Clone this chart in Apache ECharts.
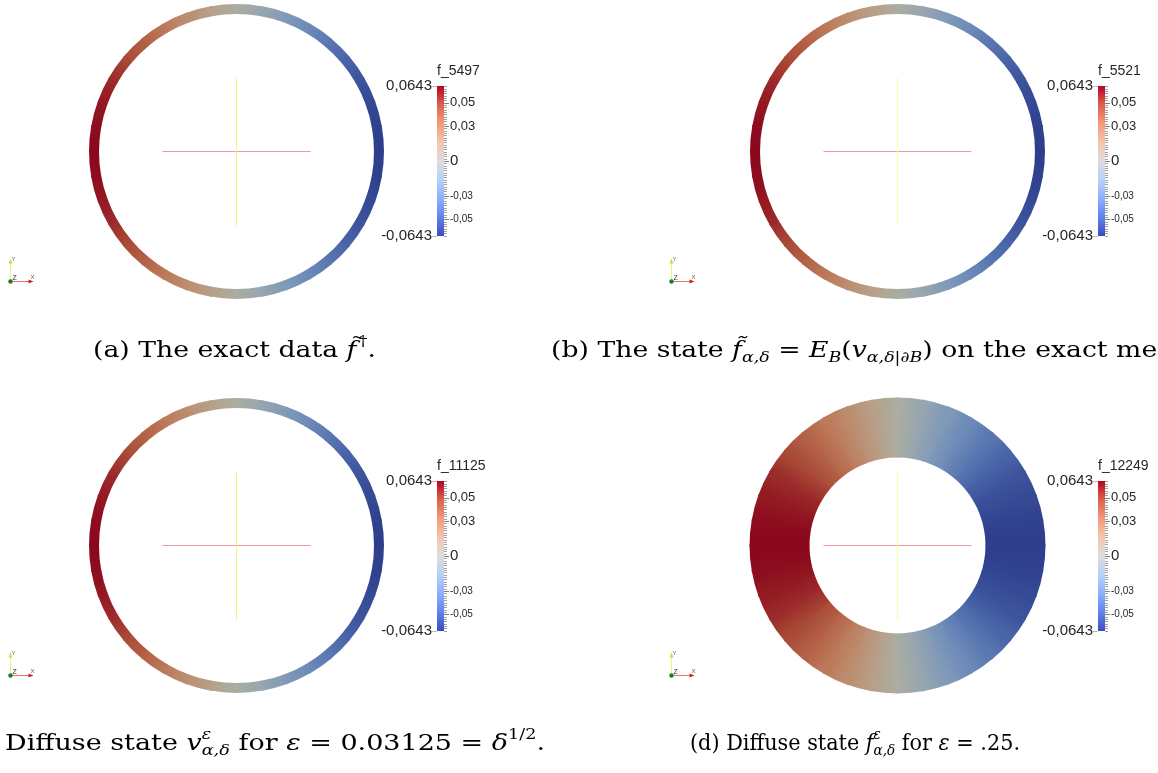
<!DOCTYPE html>
<html><head><meta charset="utf-8">
<script src="https://cdn.jsdelivr.net/npm/echarts@6/dist/echarts.min.js"></script>
<style>html,body{margin:0;padding:0;background:#fff;overflow:hidden}#c{width:1158px;height:773px}</style>
</head><body><div id="c"></div>
<script>
// ---------------- DATA ----------------
const ringAngles = [0,10,20,30,40,50,60,70,80,90,100,110,120,130,140,150,160,170,
                    180,190,200,210,220,230,240,250,260,270,280,290,300,310,320,330,340,350];
// (a) exact data f~dagger
const ringValuesA = [-0.064,-0.063,-0.060,-0.056,-0.049,-0.041,-0.032,-0.022,-0.011,0.000,0.011,0.022,0.032,0.041,0.049,0.056,0.060,0.063,
                      0.064,0.063,0.060,0.056,0.049,0.041,0.032,0.022,0.011,0.000,-0.011,-0.022,-0.032,-0.041,-0.049,-0.056,-0.060,-0.063];
// (b) state f~_{alpha,delta}
const ringValuesB = [-0.064,-0.063,-0.060,-0.056,-0.049,-0.041,-0.032,-0.022,-0.011,0.000,0.011,0.022,0.032,0.041,0.049,0.056,0.060,0.063,
                      0.064,0.063,0.060,0.056,0.049,0.041,0.032,0.022,0.011,0.000,-0.011,-0.022,-0.032,-0.041,-0.049,-0.056,-0.060,-0.063];
// (c) diffuse state v^eps
const ringValuesC = [-0.064,-0.063,-0.060,-0.056,-0.049,-0.041,-0.032,-0.022,-0.011,0.000,0.011,0.022,0.032,0.041,0.049,0.056,0.060,0.063,
                      0.064,0.063,0.060,0.056,0.049,0.041,0.032,0.022,0.011,0.000,-0.011,-0.022,-0.032,-0.041,-0.049,-0.056,-0.060,-0.063];
// (d) diffuse state f^eps
const ringValuesD = [-0.064,-0.063,-0.060,-0.056,-0.049,-0.041,-0.032,-0.022,-0.011,0.000,0.011,0.022,0.032,0.041,0.049,0.056,0.060,0.063,
                      0.064,0.063,0.060,0.056,0.049,0.041,0.032,0.022,0.011,0.000,-0.011,-0.022,-0.032,-0.041,-0.049,-0.056,-0.060,-0.063];
const colorbarTitles = ['f_5497','f_5521','f_11125','f_12249'];
const colorbarRange = [-0.0643, 0.0643];
const colorbarEndLabels = ['-0,0643','0,0643'];
const tickValues = [0.05, 0.03, 0, -0.03, -0.05];
const tickLabels = ['0,05','0,03','0','-0,03','-0,05'];
const minorTickStep = 0.002;

// ---------------- STYLE / LAYOUT ----------------
const panels = [
  {cx:236.5, cy:151.5, r0:137.5, r1:147.5, bx:437,  by:86,  dx:0,   dy:0,   values:ringValuesA, faint:false},
  {cx:897.5, cy:151.5, r0:137.5, r1:147.5, bx:1098, by:86,  dx:661, dy:0,   values:ringValuesB, faint:true},
  {cx:236.5, cy:545.5, r0:137.5, r1:147.5, bx:437,  by:481, dx:0,   dy:394, values:ringValuesC, faint:false},
  {cx:897.5, cy:545.5, r0:88,    r1:148,   bx:1098, by:481, dx:661, dy:394, values:ringValuesD, faint:true}
];
const BAR_W = 7, BAR_H = 150;
const cwStops = [
  [0.000,[59,76,192]],[0.125,[97,130,234]],[0.250,[141,176,254]],[0.375,[184,208,249]],
  [0.500,[221,221,221]],[0.625,[245,196,173]],[0.750,[244,154,123]],[0.875,[222,96,77]],[1.000,[180,4,38]]
];
function cw(t){
  t = Math.max(0, Math.min(1, t));
  for (let i=1;i<cwStops.length;i++){
    if (t <= cwStops[i][0]){
      const a=cwStops[i-1], b=cwStops[i], f=(t-a[0])/(b[0]-a[0]);
      return a[1].map((c,k)=>c+(b[1][k]-c)*f);
    }
  }
  return cwStops[cwStops.length-1][1];
}
const rgb = c => 'rgb('+c.map(v=>Math.round(Math.max(0,Math.min(255,v)))).join(',')+')';
const tOf = v => (v-colorbarRange[0])/(colorbarRange[1]-colorbarRange[0]);
function shade(v){ const c = cw(tOf(v)); return rgb([c[0]*0.77, c[1]*0.77+3, c[2]*0.73]); }

const LABEL_FONT = '"Liberation Sans", Arial, sans-serif';
const LABEL_COLOR = '#262626';
const tickFontSize = v => v === 0 ? 15 : (v > 0 ? 13 : 10);

// ---------------- SERIES ----------------
const polar = [], angleAxis = [], radiusAxis = [], grid = [], xAxis = [], yAxis = [], series = [];
const N = ringAngles.length;
panels.forEach((p, i) => {
  polar.push({center:[p.cx, p.cy], radius:[p.r0, p.r1]});
  angleAxis.push({polarIndex:i, type:'value', min:0, max:360, startAngle:0, clockwise:false, show:false});
  radiusAxis.push({polarIndex:i, type:'value', min:0, max:1, show:false});
  series.push({
    type:'custom', coordinateSystem:'polar', polarIndex:i, silent:true,
    data: ringAngles.map((a,k)=>[0.5, a, k+1<N ? ringAngles[k+1] : 360, p.values[k], p.values[(k+1)%N]]),
    encode:{radius:0, angle:1},
    renderItem(params, api){
      const a0 = api.value(1), a1 = api.value(2), v0 = api.value(3), v1 = api.value(4);
      const cs = params.coordSys, cx = cs.cx, cy = cs.cy;
      const pi0 = api.coord([0, a0]), po0 = api.coord([1, a0]), pi1 = api.coord([0, a1]);
      const r0 = Math.hypot(pi0[0]-cx, pi0[1]-cy), r1 = Math.hypot(po0[0]-cx, po0[1]-cy);
      const s0 = Math.atan2(pi0[1]-cy, pi0[0]-cx);
      let s1 = Math.atan2(pi1[1]-cy, pi1[0]-cx);
      if (s1 >= s0) s1 -= 2*Math.PI;
      const pm0 = api.coord([0.5, a0]), pm1 = api.coord([0.5, a1]);
      const pad = 0.006;
      return {type:'sector',
        shape:{cx, cy, r0, r:r1, startAngle:s1-pad, endAngle:s0+pad, clockwise:true},
        style:{fill:{type:'linear', x:pm0[0], y:pm0[1], x2:pm1[0], y2:pm1[1], global:true,
          colorStops:[{offset:0, color:shade(v0)},{offset:1, color:shade(v1)}]}}};
    }
  });

  // colorbar grid
  grid.push({left:p.bx, top:p.by, width:BAR_W, height:BAR_H});
  xAxis.push({gridIndex:i, type:'value', min:0, max:1, show:false});
  yAxis.push({gridIndex:i, type:'value', min:colorbarRange[0], max:colorbarRange[1], show:false});
  // bar
  series.push({
    type:'custom', coordinateSystem:'cartesian2d', xAxisIndex:i, yAxisIndex:i, silent:true,
    data:[[0, colorbarRange[0], 1, colorbarRange[1]]],
    renderItem(params, api){
      const pTop = api.coord([api.value(0), api.value(3)]), pBot = api.coord([api.value(2), api.value(1)]);
      const stops = cwStops.map(s=>({offset:1-s[0], color:rgb(s[1])})).reverse();
      return {type:'rect', shape:{x:pTop[0], y:pTop[1], width:pBot[0]-pTop[0], height:pBot[1]-pTop[1]},
        style:{fill:{type:'linear', x:0, y:0, x2:0, y2:1, colorStops:stops}}};
    }
  });
  // minor ticks
  const minors = [];
  for (let v = Math.ceil(colorbarRange[0]/minorTickStep)*minorTickStep; v <= colorbarRange[1]+1e-9; v += minorTickStep) minors.push([1, +v.toFixed(4)]);
  series.push({
    type:'custom', coordinateSystem:'cartesian2d', xAxisIndex:i, yAxisIndex:i, silent:true,
    data:minors,
    renderItem(params, api){
      const q = api.coord([api.value(0), api.value(1)]);
      const y = Math.round(q[1]) + 0.5;
      return {type:'line', shape:{x1:q[0], y1:y, x2:q[0]+3, y2:y}, style:{stroke:'#a0a0a0', lineWidth:1}};
    }
  });
  // major ticks + labels
  series.push({
    type:'custom', coordinateSystem:'cartesian2d', xAxisIndex:i, yAxisIndex:i, silent:true,
    data:tickValues.map((v,k)=>[1, v, k]),
    renderItem(params, api){
      const v = api.value(1), k = api.value(2);
      const q = api.coord([1, v]);
      const y = Math.round(q[1]) + 0.5;
      return {type:'group', children:[
        {type:'line', shape:{x1:q[0], y1:y, x2:q[0]+5, y2:y}, style:{stroke:'#808080', lineWidth:1}},
        {type:'text', x:q[0]+6, y:q[1], style:{text:tickLabels[k], fill:LABEL_COLOR,
          font: tickFontSize(v)+'px '+LABEL_FONT, align:'left', verticalAlign:'middle'}}
      ]};
    }
  });
  // range labels + title
  series.push({
    type:'custom', coordinateSystem:'cartesian2d', xAxisIndex:i, yAxisIndex:i, silent:true,
    data:[[0, colorbarRange[0], 0],[0, colorbarRange[1], 1]],
    renderItem(params, api){
      const k = api.value(2);
      const q = api.coord([0, api.value(1)]);
      const y = Math.round(q[1]) + 0.5;
      const kids = [
        {type:'line', shape:{x1:q[0]-5, y1:y, x2:q[0], y2:y}, style:{stroke:k===1?'#f0a8a8':'#b8b8c8', lineWidth:1}},
        {type:'text', x:q[0]-5, y:q[1], style:{text:colorbarEndLabels[k], fill:LABEL_COLOR,
          font:'15px '+LABEL_FONT, align:'right', verticalAlign:'middle'}}
      ];
      if (k === 1) kids.push({type:'text', x:q[0], y:q[1]-15, style:{text:colorbarTitles[i], fill:LABEL_COLOR,
          font:'14px '+LABEL_FONT, align:'left', verticalAlign:'middle'}});
      return {type:'group', children:kids};
    }
  });
});

// ---------------- GRAPHIC DECORATIONS ----------------
const graphic = [];
panels.forEach(p => {
  const vx = Math.round(p.cx) - 0.5, hy = Math.round(p.cy) - 0.5;
  graphic.push({type:'line', silent:true, shape:{x1:p.cx-74, y1:hy, x2:p.cx+74, y2:hy}, style:{stroke:'#ec9a9a', lineWidth:1}});
  graphic.push({type:'line', silent:true, shape:{x1:vx, y1:p.cy-74, x2:vx, y2:p.cy+74}, style:{stroke:p.faint?'#fafab0':'#f4f470', lineWidth:1}});
  const ox = 10.5 + p.dx, oy = 281.5 + p.dy;
  graphic.push({type:'line', silent:true, shape:{x1:ox, y1:oy, x2:ox, y2:oy-20}, style:{stroke:'#f0f080', lineWidth:1}});
  graphic.push({type:'polygon', silent:true, shape:{points:[[ox-2,oy-18],[ox+2,oy-18],[ox,oy-23]]}, style:{fill:'#d8d840'}});
  graphic.push({type:'line', silent:true, shape:{x1:ox, y1:oy, x2:ox+20, y2:oy}, style:{stroke:'#e87070', lineWidth:1}});
  graphic.push({type:'polygon', silent:true, shape:{points:[[ox+18,oy-2],[ox+18,oy+2],[ox+23,oy]]}, style:{fill:'#d02020'}});
  graphic.push({type:'circle', silent:true, shape:{cx:ox, cy:oy, r:2.2}, style:{fill:'#1f7a1f'}});
  graphic.push({type:'text', silent:true, x:ox+1, y:oy-25, style:{text:'Y', font:'6px '+LABEL_FONT, fill:'#666'}});
  graphic.push({type:'text', silent:true, x:ox+2, y:oy-7, style:{text:'Z', font:'7px '+LABEL_FONT, fill:'#333'}});
  graphic.push({type:'text', silent:true, x:ox+20, y:oy-7, style:{text:'X', font:'6px '+LABEL_FONT, fill:'#844'}});
});

// captions (LaTeX-like, laid out piecewise)
const SER = '"DejaVu Serif", serif';
const FR = '23px '+SER, FI = 'italic 23px '+SER, FS = '15px '+SER, FSI = 'italic 15px '+SER;
const mctx = document.createElement('canvas').getContext('2d');
const tw = (t, f) => { mctx.font = f; return mctx.measureText(t).width; };
const txt = (x, dy, t, f) => ({type:'text', silent:true, x, y:dy, style:{text:t, font:f, fill:'#000', align:'left', verticalAlign:'middle'}});
function caption(segs, x, y, target, fixedScale){
  let cx = 0; const kids = [];
  segs.forEach(s => {
    if (s.stack){
      let w = 0;
      s.stack.forEach(q => { kids.push(txt(cx, q.dy, q.t, q.f)); w = Math.max(w, tw(q.t, q.f)); });
      cx += w;
    } else {
      kids.push(txt(cx + (s.dx||0), s.dy||0, s.t, s.f)); cx += tw(s.t, s.f) + (s.dx||0);
    }
  });
  const sc = fixedScale || (target / cx);
  graphic.push({type:'group', x, y, scaleX:sc, children:kids});
  return sc;
}
const SUP = -9, SUB = 7;
const scA = caption([
  {t:'(a) The exact data ', f:FR}, {t:'f\u0303', f:FI}, {t:'\u2020', f:FS, dy:SUP, dx:2}, {t:'.', f:FR}
], 93, 351, 283);
caption([
  {t:'(b) The state ', f:FR}, {t:'f\u0303', f:FI}, {t:'\u03b1,\u03b4', f:FSI, dy:SUB},
  {t:' = ', f:FR}, {t:'E', f:FI}, {t:'B', f:FSI, dy:SUB}, {t:'(', f:FR}, {t:'v', f:FI},
  {t:'\u03b1,\u03b4|\u2202B', f:FSI, dy:SUB}, {t:')', f:FR}, {t:' on the exact mesh.', f:FR}
], 551, 351, 0, scA);
caption([
  {t:'Diffuse state ', f:FR}, {t:'v', f:FI},
  {stack:[{t:'\u03b5', f:FSI, dy:SUP},{t:'\u03b1,\u03b4', f:FSI, dy:SUB}]},
  {t:' for ', f:FR}, {t:'\u03b5', f:FI}, {t:' = 0.03125 = ', f:FR}, {t:'\u03b4', f:FI},
  {t:'1/2', f:FS, dy:SUP}, {t:'.', f:FR}
], 5, 744, 540);
caption([
  {t:'(d) Diffuse state ', f:FR}, {t:'f', f:FI},
  {stack:[{t:'\u03b5', f:FSI, dy:SUP},{t:'\u03b1,\u03b4', f:FSI, dy:SUB}]},
  {t:' for ', f:FR}, {t:'\u03b5', f:FI}, {t:' = .25.', f:FR}
], 690, 744, 330);

const chart = echarts.init(document.getElementById('c'), null, {renderer:'canvas'});
chart.setOption({
  animation:false, backgroundColor:'#ffffff',
  polar, angleAxis, radiusAxis, grid, xAxis, yAxis, series, graphic
});
</script></body></html>
